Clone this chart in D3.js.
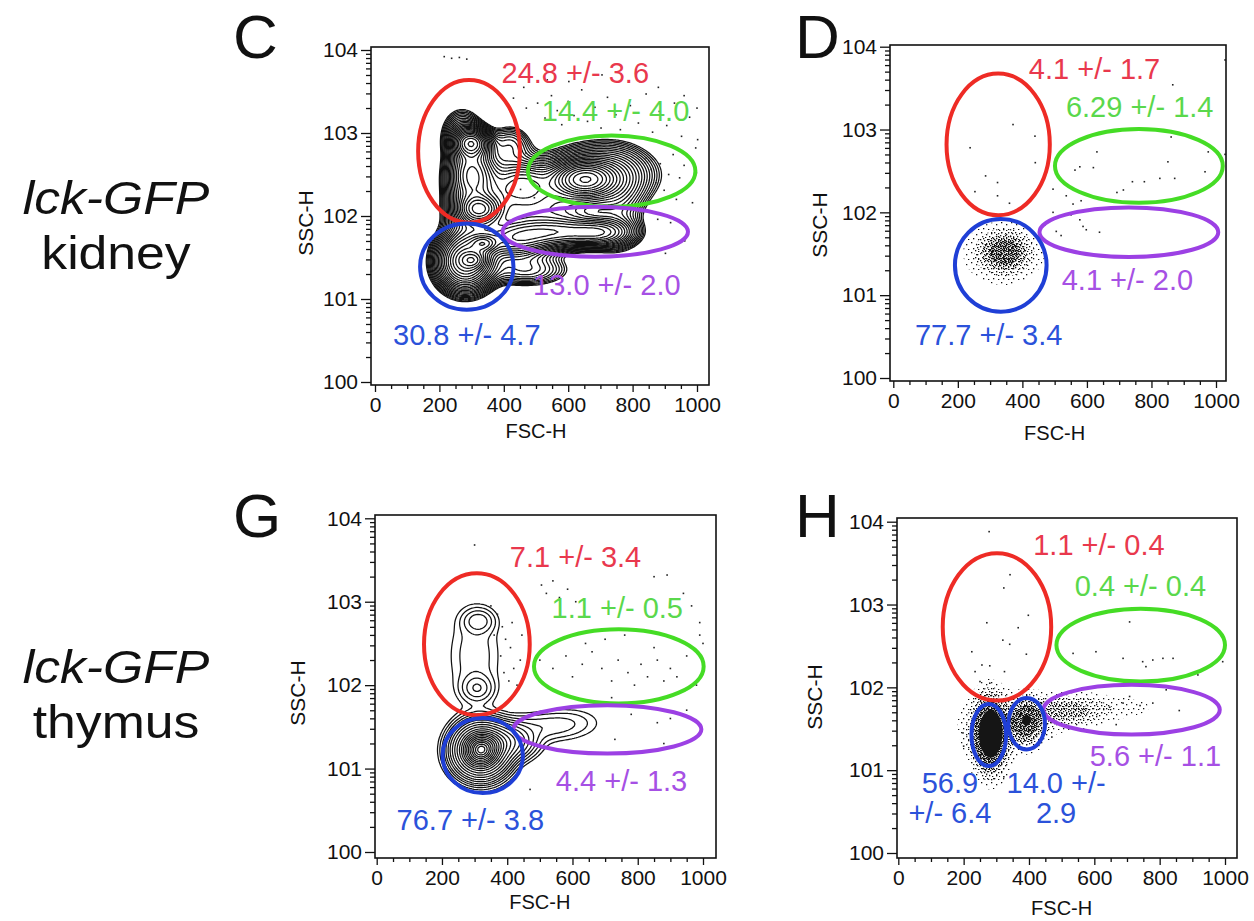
<!DOCTYPE html>
<html>
<head>
<meta charset="utf-8">
<script src="https://cdn.jsdelivr.net/npm/d3@7"></script>
<style>
  body { margin: 0; background: #fff; }
  svg { display: block; font-family: "Liberation Sans", Arial, Helvetica, sans-serif; }
</style>
</head>
<body>
<svg id="chart" width="1254" height="921"></svg>
<script>
"use strict";
(function() {
  // ---- data ----
  var xTicks = [0, 200, 400, 600, 800, 1000];
  var yTicks = [1, 10, 100, 1000, 10000];
  var yTickLabels = ["100", "101", "102", "103", "104"];
  var xTitle = "FSC-H", yTitle = "SSC-H";
  var rowLabels = [["lck-GFP", "kidney"], ["lck-GFP", "thymus"]];

  // gates: colour, FSC centre, log10 SSC centre, FSC radius, radius in decades
  var gatesC = [["red", 292, 2.78, 158, 0.86], ["green", 735, 2.54, 260, 0.43],
                ["purple", 684, 1.81, 288, 0.30], ["blue", 285, 1.39, 145, 0.52]];
  var gatesD = [["red", 325, 2.82, 160, 0.855], ["green", 761, 2.56, 260, 0.445],
                ["purple", 730, 1.76, 277, 0.30], ["blue", 333, 1.36, 142, 0.56]];
  var gatesG = [["red", 307, 2.49, 162, 0.85], ["green", 742, 2.225, 260, 0.445],
                ["purple", 707, 1.47, 288, 0.29], ["blue", 325, 1.156, 123, 0.45]];
  var gatesH = [["red", 302, 2.73, 166, 0.89], ["green", 742, 2.51, 258, 0.44],
                ["purple", 714, 1.73, 270, 0.30], ["blue", 277, 1.425, 53, 0.375],
                ["blue", 393, 1.56, 56, 0.31]];

  // percentages: colour, text, FSC, log10 SSC (baseline), anchor
  var labelsC = [["red", "24.8 +/- 3.6", 393, 3.60, "start"], ["green", "14.4 +/- 4.0", 518, 3.14, "start"],
                 ["purple", "13.0 +/- 2.0", 491, 1.05, "start"], ["blue", "30.8 +/- 4.7", 56, 0.446, "start"]];
  var labelsD = [["red", "4.1 +/- 1.7", 420, 3.61, "start"], ["green", "6.29 +/- 1.4", 535, 3.156, "start"],
                 ["purple", "4.1 +/- 2.0", 522, 1.057, "start"], ["blue", "77.7 +/- 3.4", 67, 0.40, "start"]];
  var labelsG = [["red", "7.1 +/- 3.4", 408, 3.42, "start"], ["green", "1.1 +/- 0.5", 536, 2.80, "start"],
                 ["purple", "4.4 +/- 1.3", 549, 0.726, "start"], ["blue", "76.7 +/- 3.8", 61, 0.268, "start"]];
  var labelsH = [["red", "1.1 +/- 0.4", 413, 3.60, "start"], ["green", "0.4 +/- 0.4", 540, 3.10, "start"],
                 ["purple", "5.6 +/- 1.1", 586, 1.045, "start"],
                 ["blue", "56.9", 158, 0.724, "middle"], ["blue", "+/- 6.4", 158, 0.36, "middle"],
                 ["blue", "14.0 +/-", 483, 0.724, "middle"], ["blue", "2.9", 483, 0.36, "middle"]];

  // populations: FSC centre, log10 SSC centre, FSC spread, log spread, peak height
  var popsC = [[300, 2.88, 32, 0.10, 1.0], [300, 2.52, 42, 0.22, 0.8], [325, 2.08, 38, 0.10, 0.9],
               [280, 1.45, 50, 0.20, 1.1], [338, 1.67, 24, 0.06, 0.5], [305, 1.47, 24, 0.06, 0.5],
               [430, 1.70, 70, 0.13, 0.5], [560, 1.80, 90, 0.11, 0.55], [700, 1.80, 60, 0.10, 0.45],
               [650, 2.44, 55, 0.12, 1.0], [700, 2.50, 100, 0.22, 0.35], [460, 2.40, 60, 0.15, 0.3],
               [420, 2.86, 40, 0.15, 0.15], [470, 1.35, 80, 0.12, 0.2],
               [305, 2.05, 50, 0.25, 0.35], [560, 2.10, 90, 0.20, 0.25], [420, 2.20, 80, 0.30, 0.25],
               [270, 3.00, 38, 0.18, 0.2], [760, 2.10, 50, 0.35, 0.12]];
  var popsD = [[345, 1.52, 42, 0.13, 1.0], [340, 1.50, 72, 0.22, 0.22]];
  var popsG = [[318, 1.22, 42, 0.16, 4.0], [390, 1.32, 50, 0.12, 0.7], [520, 1.50, 85, 0.11, 0.1],
               [308, 1.96, 30, 0.10, 0.14], [312, 2.77, 30, 0.09, 0.13], [300, 2.35, 55, 0.40, 0.07],
               [600, 1.60, 60, 0.10, 0.03]];
  var popsH = [[282, 1.43, 30, 0.25, 1.0], [392, 1.59, 30, 0.15, 0.5], [320, 1.55, 95, 0.22, 0.08],
               [510, 1.72, 75, 0.12, 0.22], [680, 1.76, 85, 0.10, 0.05]];

  // single events outside the dense populations: FSC, log10 SSC
  var eventsC = [[215, 3.92], [238, 3.90], [262, 3.91], [285, 3.89],
    [430, 3.42], [462, 3.55], [470, 3.30], [505, 3.36], [528, 3.18], [548, 3.45], [566, 3.27], [580, 3.10],
    [600, 3.38], [618, 3.21], [642, 3.52], [660, 3.14], [683, 3.31], [702, 3.06], [722, 3.43], [748, 3.22],
    [762, 3.04], [793, 3.33], [818, 3.12], [842, 3.47], [862, 3.01], [883, 3.26], [906, 3.09], [930, 3.36],
    [952, 2.96], [977, 3.19], [996, 2.82], [455, 3.02], [468, 2.76], [482, 2.56], [452, 2.32], [495, 2.22],
    [842, 2.70], [858, 2.56], [872, 2.40], [886, 2.63], [898, 2.31], [912, 2.50], [926, 2.74], [936, 2.20],
    [946, 2.46], [960, 2.61], [972, 2.36], [986, 2.16], [998, 2.52], [852, 2.06], [878, 1.96], [918, 1.92],
    [962, 1.70], [902, 1.55], [1002, 2.92], [602, 3.62], [535, 3.64], [705, 3.70], [822, 3.62], [880, 3.55],
    [960, 3.45], [1000, 3.30]];
  var eventsD = [[371, 3.06], [238, 2.78], [439, 2.92], [440, 2.60], [286, 2.44], [323, 2.36], [253, 2.25],
    [360, 2.11], [323, 2.20], [563, 2.51], [578, 2.55], [620, 2.54], [631, 2.73], [851, 2.61], [826, 2.41],
    [872, 2.41], [741, 2.37], [778, 2.37], [713, 2.27], [693, 2.24], [966, 2.49], [976, 2.73], [861, 2.91],
    [866, 3.54], [1028, 3.84], [1028, 2.70], [495, 2.28], [536, 2.20], [557, 2.10], [582, 2.14], [551, 1.97],
    [578, 1.91], [588, 1.83], [495, 2.00], [505, 1.77], [598, 1.79], [639, 1.76], [520, 1.72], [470, 1.85]];
  var eventsG = [[300, 3.68], [505, 3.20], [520, 3.10], [540, 3.25], [560, 3.05], [585, 3.15], [610, 3.00],
    [850, 3.30], [890, 3.32], [940, 3.10], [990, 2.75], [1000, 2.50], [965, 2.95],
    [370, 2.85], [385, 2.70], [395, 2.55], [410, 2.45], [380, 2.35], [420, 2.20], [405, 2.05], [430, 2.00],
    [440, 2.30], [390, 2.15], [350, 2.95], [360, 2.60], [415, 2.75], [445, 2.60],
    [500, 2.30], [540, 2.20], [580, 2.35], [600, 2.10], [630, 2.25], [660, 2.40], [690, 2.20], [720, 2.05],
    [740, 2.30], [770, 2.15], [790, 2.00], [810, 2.25], [830, 2.10], [860, 2.30], [880, 2.05], [900, 2.20],
    [920, 2.10], [950, 2.35], [980, 2.00], [700, 2.55], [760, 2.60], [640, 2.50], [850, 2.45],
    [700, 1.80], [720, 1.85], [750, 1.75], [780, 1.65], [820, 1.80], [860, 1.55], [900, 1.60], [950, 1.70],
    [730, 1.35], [880, 1.30], [470, 0.75], [990, 2.60]];
  var eventsH = [[278, 3.88], [342, 3.36], [323, 3.20], [398, 2.87], [271, 2.78], [367, 2.72], [320, 2.57],
    [341, 2.52], [225, 2.43], [392, 2.40], [256, 2.27], [280, 2.26], [235, 2.19], [325, 2.19], [250, 2.07],
    [280, 2.05], [708, 2.79], [535, 2.41], [605, 2.43], [688, 2.35], [748, 2.31], [779, 2.33], [810, 2.35],
    [841, 2.35], [758, 2.25], [917, 2.15], [993, 2.31], [688, 1.81], [708, 1.89], [779, 1.81], [667, 1.55],
    [647, 1.76], [820, 1.97], [740, 1.78], [860, 1.72], [198, 1.45], [200, 1.29], [280, 1.04], [323, 0.92],
    [430, 1.30], [470, 1.40]];

  // ---- styles ----
  var gateColor = {red: "#ee2b25", green: "#45dc25", purple: "#9c40e4", blue: "#1f3fd6"};
  var labelColor = {red: "#e9384d", green: "#5ad84c", purple: "#a650e4", blue: "#2b52da"};
  var stipples = [
    {id: "st1", size: 10, dots: [[1, 2], [6, 4], [3, 8], [8, 9]]},
    {id: "st2", size: 7, dots: [[0, 1], [4, 2], [2, 5], [5, 6]]},
    {id: "st3", size: 5, dots: [[0, 0], [3, 1], [1, 3], [4, 4]]},
    {id: "st4", size: 4, dots: [[0, 0], [2, 1], [1, 2], [3, 3], [0, 2]]}
  ];
  var geo = function(start, ratio, n) {
    return d3.range(n).map(function(i) { return start * Math.pow(ratio, i); });
  };

  var panels = [
    {name: "C", gates: gatesC, labels: labelsC, pops: popsC, events: eventsC, mode: "contour",
     levels: geo(0.06, 1.15, 26),
     box: {left: 371, right: 709, top: 47, bottom: 385, x0: 375, x1000: 697, y0: 382, y4: 50,
           ssX: 313, ssY: 223, fsY: 438, lx: 233, ly: 58}},
    {name: "D", gates: gatesD, labels: labelsD, pops: popsD, events: eventsD, mode: "stipple",
     levels: [0.06, 0.18, 0.4, 0.7], fills: ["url(#st1)", "url(#st2)", "url(#st3)", "url(#st4)"],
     box: {left: 890, right: 1226, top: 45, bottom: 381, x0: 893.3, x1000: 1216, y0: 378, y4: 46.7,
           ssX: 827, ssY: 225, fsY: 440, lx: 795, ly: 58}},
    {name: "G", gates: gatesG, labels: labelsG, pops: popsG, events: eventsG, mode: "contour",
     levels: [0.03, 0.05, 0.08, 0.12, 0.17, 0.25, 0.35, 0.5, 0.7, 0.95, 1.25, 1.55, 1.85, 2.15,
              2.45, 2.75, 3.05, 3.35, 3.6, 3.85, 4.05],
     box: {left: 375, right: 716, top: 515, bottom: 858, x0: 376.7, x1000: 703, y0: 852, y4: 518.3,
           ssX: 305, ssY: 693, fsY: 909, lx: 233, ly: 537}},
    {name: "H", gates: gatesH, labels: labelsH, pops: popsH, events: eventsH, mode: "stipple",
     levels: [0.03, 0.08, 0.16, 0.3, 0.55],
     fills: ["url(#st1)", "url(#st2)", "url(#st3)", "url(#st4)", "#151515"],
     box: {left: 897, right: 1237, top: 518, bottom: 858, x0: 898.3, x1000: 1225, y0: 853, y4: 521.7,
           ssX: 822, ssY: 697, fsY: 915, lx: 795, ly: 537}}
  ];

  var svg = d3.select("#chart");
  var defs = svg.append("defs");

  // stipple patterns for dense dot clouds
  stipples.forEach(function(s) {
    var pat = defs.append("pattern").attr("id", s.id).attr("patternUnits", "userSpaceOnUse")
      .attr("width", s.size).attr("height", s.size);
    pat.selectAll("rect").data(s.dots).enter().append("rect")
      .attr("x", function(d) { return d[0]; }).attr("y", function(d) { return d[1]; })
      .attr("width", 1.3).attr("height", 1.3).attr("fill", "#111");
  });

  // ---- functions ----
  var drawPanel = function(p) {
    var b = p.box, cell = 2;
    var x = d3.scaleLinear().domain([0, 1000]).range([b.x0, b.x1000]);
    var y = d3.scaleLog().domain([1, 10000]).range([b.y0, b.y4]);
    var yl = function(e) { return y(Math.pow(10, e)); };
    var g = svg.append("g").attr("class", "panel-" + p.name);

    defs.append("clipPath").attr("id", "clip-" + p.name).append("rect")
      .attr("x", b.left).attr("y", b.top)
      .attr("width", b.right - b.left).attr("height", b.bottom - b.top);
    var plot = g.append("g").attr("clip-path", "url(#clip-" + p.name + ")");

    // density of the populations on a pixel grid
    var nx = Math.ceil((b.right - b.left) / cell), ny = Math.ceil((b.bottom - b.top) / cell);
    var values = new Array(nx * ny);
    var i, j;
    for (j = 0; j < ny; j++) {
      for (i = 0; i < nx; i++) {
        var fx = x.invert(b.left + (i + 0.5) * cell);
        var fy = Math.log10(y.invert(b.top + (j + 0.5) * cell));
        var s = 0;
        p.pops.forEach(function(c) {
          var dx = (fx - c[0]) / c[2], dy = (fy - c[1]) / c[3];
          s += c[4] * Math.exp(-0.5 * (dx * dx + dy * dy));
        });
        values[j * nx + i] = s;
      }
    }
    var contours = d3.contours().size([nx, ny]).thresholds(p.levels)(values);
    var path = d3.geoPath(d3.geoTransform({
      point: function(px, py) { this.stream.point(b.left + px * cell, b.top + py * cell); }
    }));

    if (p.mode === "contour") {
      plot.selectAll("path.contour").data(contours).enter().append("path")
        .attr("class", "contour").attr("d", path)
        .attr("fill", "none").attr("stroke", "#111").attr("stroke-width", 1.25)
        .attr("stroke-linejoin", "round");
    } else {
      plot.selectAll("path.stipple").data(contours).enter().append("path")
        .attr("class", "stipple").attr("d", path)
        .attr("fill", function(d, k) { return p.fills[k]; });
    }

    // single events
    plot.selectAll("rect.event").data(p.events).enter().append("rect")
      .attr("class", "event")
      .attr("x", function(d) { return x(d[0]) - 0.8; })
      .attr("y", function(d) { return yl(d[1]) - 0.8; })
      .attr("width", 1.6).attr("height", 1.6).attr("fill", "#222");

    // gates
    g.selectAll("ellipse.gate").data(p.gates).enter().append("ellipse")
      .attr("class", "gate")
      .attr("cx", function(d) { return x(d[1]); })
      .attr("cy", function(d) { return yl(d[2]); })
      .attr("rx", function(d) { return x(d[3]) - x(0); })
      .attr("ry", function(d) { return (yl(d[2] - d[4]) - yl(d[2] + d[4])) / 2; })
      .attr("fill", "none").attr("stroke", function(d) { return gateColor[d[0]]; })
      .attr("stroke-width", 4);

    // percentages
    g.selectAll("text.pct").data(p.labels).enter().append("text")
      .attr("class", "pct")
      .attr("x", function(d) { return x(d[2]); })
      .attr("y", function(d) { return yl(d[3]); })
      .attr("text-anchor", function(d) { return d[4]; })
      .attr("font-size", 29).attr("fill", function(d) { return labelColor[d[0]]; })
      .text(function(d) { return d[1]; });

    // frame
    g.append("rect").attr("x", b.left).attr("y", b.top)
      .attr("width", b.right - b.left).attr("height", b.bottom - b.top)
      .attr("fill", "none").attr("stroke", "#111").attr("stroke-width", 1.6);

    // axes
    var minorY = [];
    [1, 10, 100, 1000].forEach(function(dec) {
      d3.range(2, 10).forEach(function(m) { minorY.push(dec * m); });
    });
    var minorX = d3.range(50, 1001, 50).filter(function(v) { return v % 200 !== 0; });

    var gy = g.append("g").attr("transform", "translate(" + b.left + ",0)");
    gy.append("g").call(d3.axisLeft(y).tickValues(minorY).tickSize(5).tickFormat(""));
    gy.append("g").call(d3.axisLeft(y).tickValues(yTicks).tickSize(10).tickPadding(3)
      .tickFormat(function(d, k) { return yTickLabels[k]; }));
    var gx = g.append("g").attr("transform", "translate(0," + b.bottom + ")");
    gx.append("g").call(d3.axisBottom(x).tickValues(minorX).tickSize(4).tickFormat(""));
    gx.append("g").call(d3.axisBottom(x).tickValues(xTicks).tickSize(7).tickPadding(5)
      .tickFormat(d3.format("d")));

    g.selectAll(".domain").remove();
    g.selectAll(".tick line").attr("stroke", "#111").attr("stroke-width", 1.3);
    g.selectAll(".tick text").attr("font-size", 21).attr("fill", "#111")
      .attr("font-family", "'Liberation Sans', Arial, Helvetica, sans-serif");

    // titles
    g.append("text").attr("transform", "translate(" + b.ssX + "," + b.ssY + ") rotate(-90)")
      .attr("text-anchor", "middle").attr("font-size", 21).attr("fill", "#111").text(yTitle);
    g.append("text").attr("x", x(500)).attr("y", b.fsY)
      .attr("text-anchor", "middle").attr("font-size", 20).attr("fill", "#111").text(xTitle);

    // panel letter
    g.append("text").attr("x", b.lx).attr("y", b.ly)
      .attr("font-size", 62).attr("fill", "#111").text(p.name);
  };

  // ---- operations ----
  panels.forEach(drawPanel);

  // row labels, slightly widened so the two lines keep their original width
  var rows = svg.selectAll("g.row").data(rowLabels).enter().append("g")
    .attr("class", "row")
    .attr("transform", function(d, k) { return "translate(116," + (k === 0 ? 214 : 683) + ") scale(1.1,1)"; });
  rows.append("text").attr("text-anchor", "middle").attr("font-size", 47)
    .attr("font-style", "italic").attr("fill", "#111")
    .text(function(d) { return d[0]; });
  rows.append("text").attr("text-anchor", "middle").attr("font-size", 47)
    .attr("y", 55).attr("fill", "#111")
    .text(function(d) { return d[1]; });
})();
</script>
</body>
</html>
